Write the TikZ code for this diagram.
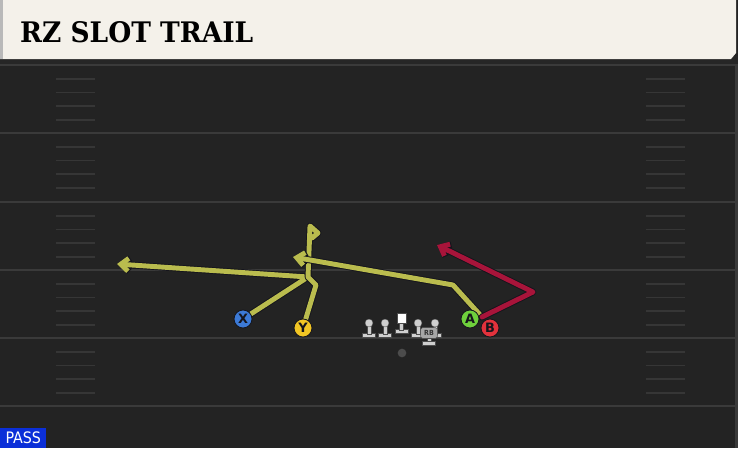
\documentclass[tikz,border=0pt]{standalone}
\usepackage{graphicx}
\usepackage{fontspec}
\setsansfont{DejaVu Sans}
\newfontfamily\titlefont{DejaVu Serif Condensed}
\newfontfamily\tagfont{DejaVu Sans Condensed}
\usetikzlibrary{arrows.meta}

\definecolor{turf}{HTML}{232323}
\definecolor{yardgray}{HTML}{3A3A3A}
\definecolor{hashgray}{HTML}{363636}
\definecolor{cream}{HTML}{F4F1EA}
\definecolor{routeyellow}{HTML}{BABC4E}
\definecolor{routered}{HTML}{A8143A}
\definecolor{routeedge}{HTML}{15151C}
\definecolor{passblue}{HTML}{0B2FD8}
\definecolor{xblue}{HTML}{3C7AD6}
\definecolor{yyellow}{HTML}{F2C624}
\definecolor{agreen}{HTML}{6FD03C}
\definecolor{bred}{HTML}{E2323C}
\definecolor{linegray}{HTML}{CFCFCF}

\pgfdeclarelayer{field}
\pgfdeclarelayer{routes}
\pgfsetlayers{field,routes,main}

\tikzset{
	yardline/.style={yardgray, line width=1.7pt},
	hashmark/.style={hashgray, line width=1.2pt},
	routeline/.style={routeyellow, line width=4.2pt, line join=round, line cap=round,
		preaction={draw=routeedge, line width=5.8pt, line join=round, line cap=round, #1}, #1},
	routeline/.default={-},
	route/.style={routeline={-{Straight Barb[length=6.5pt,width=11pt]}}},
	hotroute/.style={route, routered},
	player/.style={circle, draw=routeedge, line width=0.7pt, minimum size=0.54cm,
		inner sep=0pt, text=routeedge, font=\sffamily\bfseries\fontsize{11}{11}\selectfont},
	lineman/.style={fill=linegray, draw=black!70, line width=0.3pt},
	rbtag/.style={fill=gray!70, draw=black!70, line width=0.3pt, rounded corners=1.5pt,
		minimum width=0.5cm, minimum height=0.32cm, inner sep=0pt,
		font=\tagfont\bfseries\fontsize{6}{6}\selectfont, text=black!80},
	qbdot/.style={circle, fill=gray!60!black, minimum size=0.26cm, inner sep=0pt},
}

\begin{document}
\begin{tikzpicture}[x=0.03cm, y=-0.03cm]
	\useasboundingbox (0,0) rectangle (738,448);

	% field and header
	\begin{pgfonlayer}{field}
		\fill[turf] (0,0) rectangle (738,448);
		\fill[black!85] (0,56) rectangle (738,64);
		\fill[cream] (0,0) -- (736,0) -- (736,53) -- (731,59) -- (0,59) -- cycle;
		\fill[gray!55] (0,0) rectangle (3,59);
		\fill[yardgray] (735,64) rectangle (738,448);

		\foreach \y in {65,133,202,270,338,406}
			\draw[yardline] (0,\y) -- (735,\y);
		\foreach \y in {65,133,202,270,338}
			\foreach \d in {14,27.5,41,55} {
				\draw[hashmark] (56,\y+\d) -- (95,\y+\d);
				\draw[hashmark] (646,\y+\d) -- (685,\y+\d);
			}
	\end{pgfonlayer}

	\node[anchor=south west, inner sep=0pt] (title) at (20,43)
		{\resizebox{6.99cm}{0.63cm}{\titlefont\bfseries RZ SLOT TRAIL}};

	\node[anchor=south west, fill=passblue, text=white, minimum width=1.38cm,
		minimum height=0.6cm, inner sep=0pt,
		font=\tagfont\fontsize{13.5}{13.5}\selectfont] (playtype) at (0,448) {PASS};

	% offensive line
	\foreach \x in {369,385,418,435} {
		\fill[lineman] (\x-6.5,333) rectangle (\x+6.5,337.5);
		\fill[lineman] (\x-2,323) rectangle (\x+2,334);
		\fill[lineman] (\x,323) circle (4);
	}
	\fill[lineman] (395,329) rectangle (408,333.5);
	\fill[lineman] (399.5,322) rectangle (403.5,330);
	\fill[white, draw=black!70, line width=0.3pt] (397,313) rectangle (406,323);

	\node[rbtag] (rb) at (429,333) {RB};
	\fill[lineman] (427,338) rectangle (431,342);
	\fill[lineman] (422,341) rectangle (435,345.5);
	\node[qbdot] (qb) at (402,353) {};

	% players
	\node[player, fill=xblue] (pX) at (243,319) {X};
	\node[player, fill=yyellow] (pY) at (303,328) {Y};
	\node[player, fill=agreen] (pA) at (470,319) {A};
	\node[player, fill=bred] (pB) at (490,328) {B};

	\coordinate (xcut) at (308,277);
	\coordinate (xend) at (117,264);
	\coordinate (ybend) at (316,285);
	\coordinate (ytop) at (310,226);
	\coordinate (yflag) at (318,233);
	\coordinate (yflagend) at (312,238);
	\coordinate (snap) at (482,317);
	\coordinate (abreak) at (453,285);
	\coordinate (aend) at (293,257);
	\coordinate (bbreak) at (533,292);
	\coordinate (bend) at (437,245);

	% routes
	\begin{pgfonlayer}{routes}
		\draw[route] (pX) -- (xcut) -- (xend);
		\draw[routeline] (pY) -- (ybend) -- (xcut) -- (ytop) -- (yflag) -- (yflagend);
		\draw[route] (snap) -- (abreak) -- (aend);
		\draw[hotroute] (snap) -- (bbreak) -- (bend);
	\end{pgfonlayer}
\end{tikzpicture}
\end{document}
